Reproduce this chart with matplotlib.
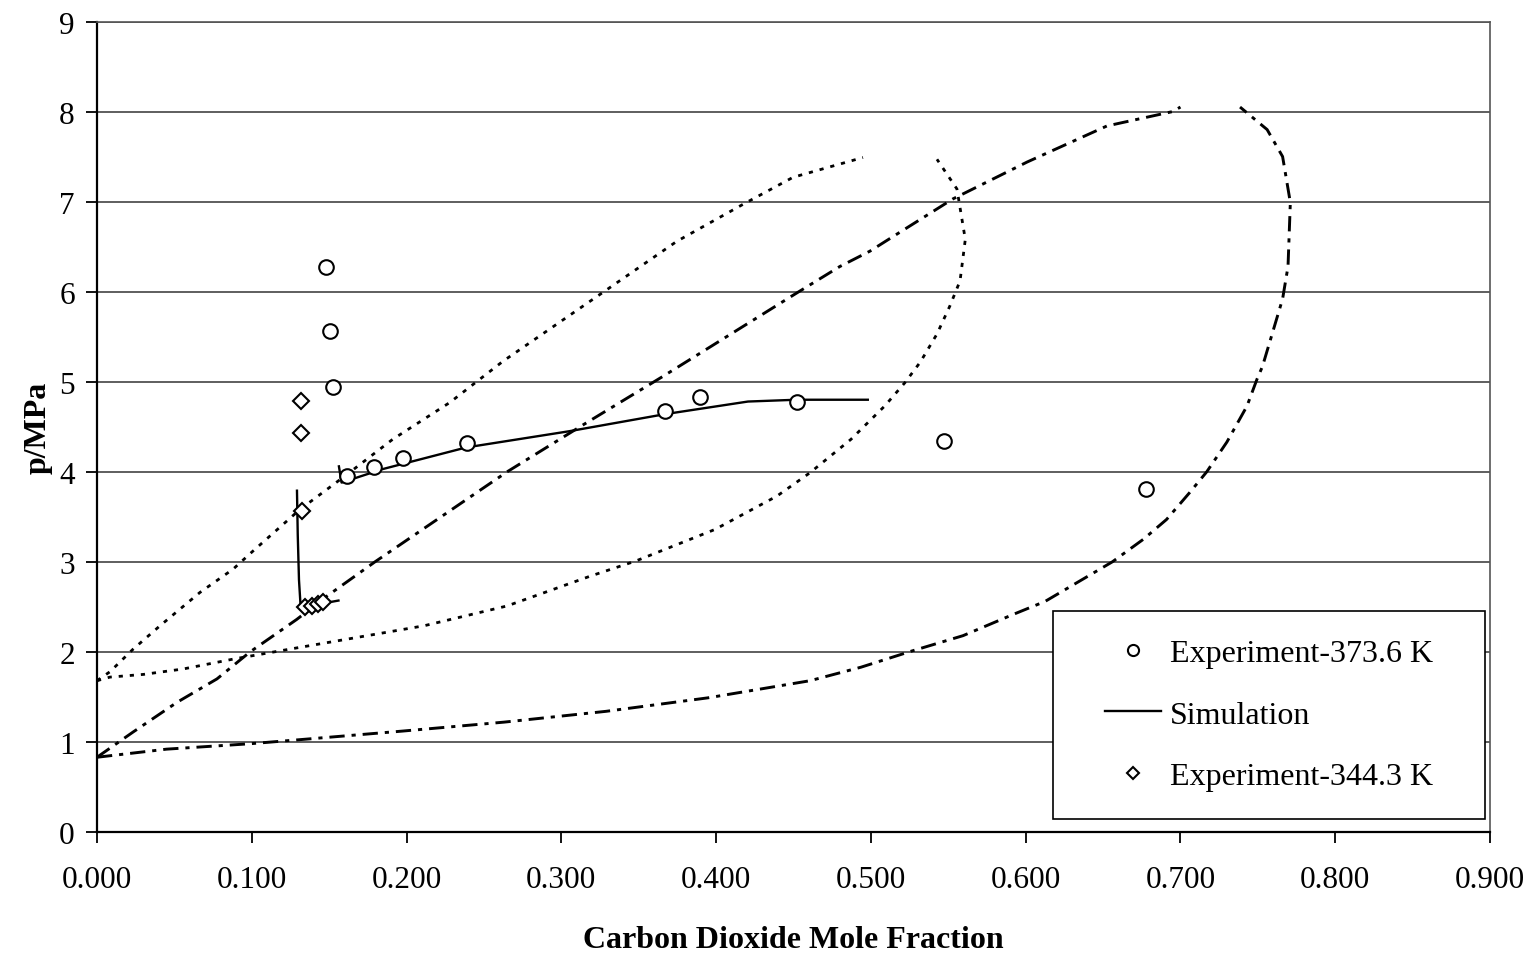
import matplotlib
matplotlib.use('Agg')
import matplotlib.pyplot as plt
from matplotlib.patches import Rectangle

plt.rcParams['font.family'] = ['Liberation Serif', 'DejaVu Serif']
plt.rcParams['lines.scale_dashes'] = False

# measured data, 373.6 K
x_exp_373 = [0.148, 0.1505, 0.1525, 0.1615, 0.179, 0.198, 0.239, 0.367, 0.3896, 0.452, 0.547, 0.678]
p_exp_373 = [6.27, 5.56, 4.94, 3.95, 4.05, 4.15, 4.32, 4.68, 4.83, 4.77, 4.34, 3.81]

# measured data, 344.3 K
x_exp_344 = [0.132, 0.132, 0.1325, 0.1344, 0.1389, 0.1428, 0.146]
p_exp_344 = [4.79, 4.43, 3.57, 2.50, 2.51, 2.53, 2.55]

# simulation results
x_sim_373 = [0.1563, 0.158, 0.1846, 0.2385, 0.305, 0.367, 0.4206, 0.452, 0.498]
p_sim_373 = [4.06, 3.88, 4.03, 4.27, 4.45, 4.64, 4.78, 4.80, 4.80]
x_sim_344 = [0.1292, 0.1297, 0.1305, 0.1315, 0.140, 0.156]
p_sim_344 = [3.79, 3.30, 2.80, 2.52, 2.52, 2.57]

# phase envelope (dotted), upper and lower branches
x_env1_up = [0.0, 0.0084, 0.0233, 0.0407, 0.0665, 0.088, 0.0995, 0.131, 0.1615, 0.191,
             0.228, 0.2625, 0.325, 0.3747, 0.4174, 0.4497, 0.4949]
p_env1_up = [1.68, 1.78, 2.03, 2.29, 2.66, 2.92, 3.10, 3.58, 3.97, 4.36,
             4.77, 5.23, 5.97, 6.56, 6.97, 7.27, 7.49]
x_env1_lo = [0.0, 0.0084, 0.03, 0.0556, 0.088, 0.131, 0.2113, 0.2649, 0.3185, 0.3482, 0.3993,
             0.4393, 0.4607, 0.4871, 0.5089, 0.522, 0.532, 0.5427, 0.551, 0.5576, 0.561,
             0.5556, 0.5427]
p_env1_lo = [1.68, 1.72, 1.75, 1.81, 1.92, 2.05, 2.29, 2.51, 2.84, 3.01, 3.36,
             3.73, 3.99, 4.36, 4.73, 4.99, 5.22, 5.53, 5.84, 6.12, 6.58,
             7.14, 7.47]

# phase envelope (dash-dot), upper and lower branches
x_env2_up = [0.0, 0.0233, 0.0517, 0.0775, 0.0989, 0.129, 0.1486, 0.1796, 0.265, 0.313,
             0.3657, 0.4497, 0.480, 0.4994, 0.5169, 0.553, 0.601, 0.6525, 0.695, 0.700]
p_env2_up = [0.83, 1.11, 1.44, 1.70, 2.00, 2.36, 2.62, 3.00, 4.00, 4.51,
             5.06, 5.96, 6.28, 6.45, 6.64, 7.03, 7.44, 7.84, 8.00, 8.05]
x_env2_lo = [0.0, 0.045, 0.0989, 0.1344, 0.197, 0.263, 0.3289, 0.3948, 0.4607, 0.4936,
             0.5265, 0.5595, 0.5925, 0.6125, 0.656, 0.676, 0.691, 0.706, 0.717, 0.730,
             0.743, 0.7495, 0.753, 0.766, 0.7695, 0.771, 0.766, 0.756, 0.7385]
p_env2_lo = [0.83, 0.92, 0.98, 1.03, 1.12, 1.22, 1.34, 1.49, 1.68, 1.83,
             2.01, 2.18, 2.42, 2.56, 3.00, 3.25, 3.47, 3.77, 4.00, 4.33,
             4.73, 5.03, 5.17, 5.92, 6.28, 6.99, 7.50, 7.80, 8.05]

x_ticks = [0.0, 0.1, 0.2, 0.3, 0.4, 0.5, 0.6, 0.7, 0.8, 0.9]
y_ticks = list(range(0, 10))

fig = plt.figure(figsize=(15.3, 9.54), dpi=100)
ax = fig.add_axes([97 / 1530, 121 / 954, 1393 / 1530, 810.5 / 954])

dot_style = dict(color='k', lw=2.0, dashes=(3, 5))
dashdot_style = dict(color='k', lw=2.1, dashes=(11, 5, 3, 5))
ax.plot(x_env1_up, p_env1_up, **dot_style)
ax.plot(x_env1_lo, p_env1_lo, **dot_style)
ax.plot(x_env2_up, p_env2_up, **dashdot_style)
ax.plot(x_env2_lo, p_env2_lo, **dashdot_style)

sim, = ax.plot(x_sim_373, p_sim_373, color='k', lw=1.7, label='Simulation')
ax.plot(x_sim_344, p_sim_344, color='k', lw=1.7)

circ, = ax.plot(x_exp_373, p_exp_373, 'o', ms=10.5, mfc='white', mec='k', mew=1.5,
                label='Experiment-373.6 K')
diam, = ax.plot(x_exp_344, p_exp_344, 'D', ms=8.5, mfc='white', mec='k', mew=1.5,
                label='Experiment-344.3 K')

ax.set_xlim(0, 0.9)
ax.set_ylim(0, 9)
ax.set_xticks(x_ticks)
ax.set_xticklabels(['%.3f' % v for v in x_ticks])
ax.set_yticks(y_ticks)
ax.yaxis.grid(True, color='#333333', lw=1.1)
ax.set_axisbelow(True)
ax.tick_params(axis='both', direction='out', length=8, width=1.3, labelsize=22.5)
ax.tick_params(axis='x', pad=16)
ax.tick_params(axis='y', pad=8)

for side in ['left', 'bottom']:
    ax.spines[side].set_linewidth(1.6)
for side in ['top', 'right']:
    ax.spines[side].set_linewidth(1.2)
    ax.spines[side].set_color('#555555')

ax.set_xlabel('Carbon Dioxide Mole Fraction', fontsize=23, fontweight='bold')
ax.set_ylabel('p/MPa', fontsize=23, fontweight='bold')
ax.xaxis.set_label_coords(0.5, -0.115)
ax.yaxis.set_label_coords(-0.032, 0.5)

# legend box
box = Rectangle((0.6863, 0.016), 0.3101, 0.2566, transform=ax.transAxes,
                facecolor='white', edgecolor='k', lw=1.2, zorder=5)
ax.add_patch(box)
leg_circ, = ax.plot([], [], 'o', ms=8, mfc='white', mec='k', mew=1.5)
leg_diam, = ax.plot([], [], 'D', ms=6.5, mfc='white', mec='k', mew=1.5)
leg = ax.legend([leg_circ, sim, leg_diam],
                ['Experiment-373.6 K', 'Simulation', 'Experiment-344.3 K'],
                loc='center', bbox_to_anchor=(0.8414, 0.1444), frameon=False,
                fontsize=23, handlelength=1.75, handletextpad=0.3, labelspacing=1.0)
leg.set_zorder(6)

fig.savefig('out.png', dpi=100)
